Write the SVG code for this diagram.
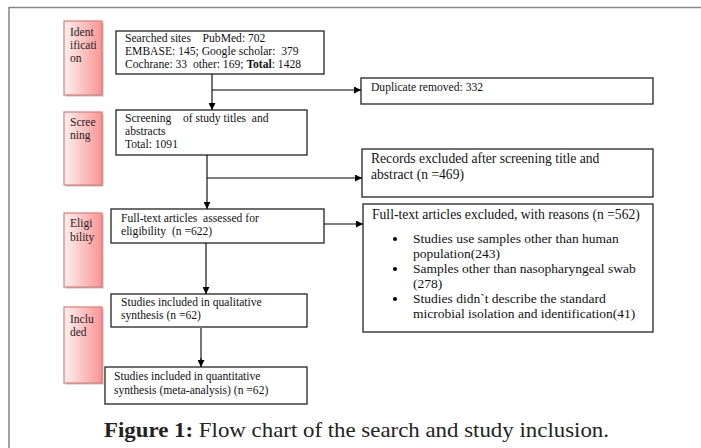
<svg xmlns="http://www.w3.org/2000/svg" width="701" height="448" viewBox="0 0 701 448">
<defs>
<linearGradient id="pink" x1="0" y1="0" x2="1" y2="0">
<stop offset="0" stop-color="#fff0f0"/>
<stop offset="1" stop-color="#fa9494"/>
</linearGradient>
<marker id="ah" viewBox="0 0 8 8" refX="8" refY="4" markerWidth="7" markerHeight="7" markerUnits="userSpaceOnUse" orient="auto">
<path d="M0,0 L8,4 L0,8 z" fill="#000"/>
</marker>
</defs>
<style>
.box{fill:#fff;stroke:#222;stroke-width:1.3}
.lab{fill:url(#pink);stroke:#e07a7a;stroke-width:1.2}
.sh{fill:#bbb}
.t{font-family:"Liberation Serif",serif;font-size:11.6px;fill:#111;white-space:pre}
.t12{font-family:"Liberation Serif",serif;font-size:13.6px;fill:#111;white-space:pre}
.t13{font-family:"Liberation Serif",serif;font-size:13.5px;fill:#111;white-space:pre}
.lt{font-family:"Liberation Serif",serif;font-size:11.5px;fill:#222}
.con{stroke:#000;stroke-width:1.1;fill:none}
.cap{font-family:"Liberation Serif",serif;font-size:21px;fill:#222}
</style>
<g id="frame">
<line x1="9" y1="7.5" x2="701" y2="7.5" stroke="#888" stroke-width="1.5"/>
<line x1="9" y1="7" x2="9" y2="448" stroke="#666" stroke-width="1.2"/>
</g>
<g id="label-identification">
<rect class="sh" x="65.5" y="22.5" width="38" height="74"/>
<rect class="lab" x="64" y="21" width="38" height="74"/>
<text class="lt" x="70" y="36">Ident</text>
<text class="lt" x="70" y="49">ificati</text>
<text class="lt" x="70" y="62">on</text>
</g>
<g id="label-screening">
<rect class="sh" x="65.5" y="113.5" width="38" height="73"/>
<rect class="lab" x="64" y="112" width="38" height="73"/>
<text class="lt" x="70" y="126">Scree</text>
<text class="lt" x="70" y="139">ning</text>
</g>
<g id="label-eligibility">
<rect class="sh" x="65.5" y="214.5" width="38" height="74"/>
<rect class="lab" x="64" y="213" width="38" height="74"/>
<text class="lt" x="70" y="227">Eligi</text>
<text class="lt" x="70" y="241">bility</text>
</g>
<g id="label-included">
<rect class="sh" x="65.5" y="308.5" width="38" height="76"/>
<rect class="lab" x="64" y="307" width="38" height="76"/>
<text class="lt" x="70" y="323">Inclu</text>
<text class="lt" x="70" y="336">ded</text>
</g>
<g id="search">
<rect class="box" x="116" y="31" width="208" height="43"/>
<text class="t" x="125" y="42">Searched sites    PubMed: 702</text>
<text class="t" x="125" y="55">EMBASE: 145; Google scholar:  379</text>
<text class="t" x="125" y="68">Cochrane: 33  other: 169; <tspan font-weight="bold">Total</tspan>: 1428</text>
</g>
<g id="duplicate">
<rect class="box" x="361" y="78" width="292" height="26"/>
<text class="t" x="371" y="91" font-size="12.3">Duplicate removed: 332</text>
</g>
<g id="screening">
<rect class="box" x="116" y="110" width="191" height="45"/>
<text class="t" x="125" y="122">Screening    of study titles  and</text>
<text class="t" x="125" y="135">abstracts</text>
<text class="t" x="125" y="148">Total: 1091</text>
</g>
<g id="records-excluded">
<rect class="box" x="362" y="149" width="291" height="48"/>
<text class="t12" x="371" y="163">Records excluded after screening title and</text>
<text class="t12" x="371" y="179">abstract (n =469)</text>
</g>
<g id="eligibility">
<rect class="box" x="111" y="209" width="213" height="34"/>
<text class="t" x="121" y="222">Full-text articles  assessed for</text>
<text class="t" x="121" y="235">eligibility  (n =622)</text>
</g>
<g id="fulltext-excluded">
<rect class="box" x="363" y="204" width="290" height="128"/>
<text class="t12" x="372" y="219">Full-text articles excluded, with reasons (n =562)</text>
<circle cx="395" cy="239" r="2"/>
<text class="t13" x="413" y="243">Studies use samples other than human</text>
<text class="t13" x="413" y="258">population(243)</text>
<circle cx="395" cy="269" r="2"/>
<text class="t13" x="413" y="273">Samples other than nasopharyngeal swab</text>
<text class="t13" x="413" y="288">(278)</text>
<circle cx="395" cy="299" r="2"/>
<text class="t13" x="413" y="303">Studies didn`t describe the standard</text>
<text class="t13" x="413" y="318">microbial isolation and identification(41)</text>
</g>
<g id="qualitative">
<rect class="box" x="111" y="294" width="196" height="33"/>
<text class="t" x="121" y="306">Studies included in qualitative</text>
<text class="t" x="121" y="319">synthesis (n =62)</text>
</g>
<g id="quantitative">
<rect class="box" x="105" y="367" width="202" height="37"/>
<text class="t" x="114" y="380" font-size="12">Studies included in quantitative</text>
<text class="t" x="114" y="394" font-size="12">synthesis (meta-analysis) (n =62)</text>
</g>
<g id="connectors">
<line class="con" x1="212" y1="74" x2="212" y2="110" marker-end="url(#ah)"/>
<line class="con" x1="212" y1="90" x2="361" y2="90" marker-end="url(#ah)"/>
<line class="con" x1="207" y1="155" x2="207" y2="209" marker-end="url(#ah)"/>
<line class="con" x1="207" y1="178" x2="362" y2="178" marker-end="url(#ah)"/>
<line class="con" x1="324" y1="224" x2="363" y2="224" marker-end="url(#ah)"/>
<line class="con" x1="206" y1="243" x2="206" y2="294" marker-end="url(#ah)"/>
<line x1="201" y1="327" x2="201" y2="361" stroke="#777" stroke-width="2"/>
<line class="con" x1="201" y1="358" x2="201" y2="367" marker-end="url(#ah)"/>
</g>
<g id="caption">
<text class="cap" x="104" y="437" textLength="505" lengthAdjust="spacingAndGlyphs"><tspan font-weight="bold">Figure 1:</tspan> Flow chart of the search and study inclusion.</text>
</g>
</svg>
